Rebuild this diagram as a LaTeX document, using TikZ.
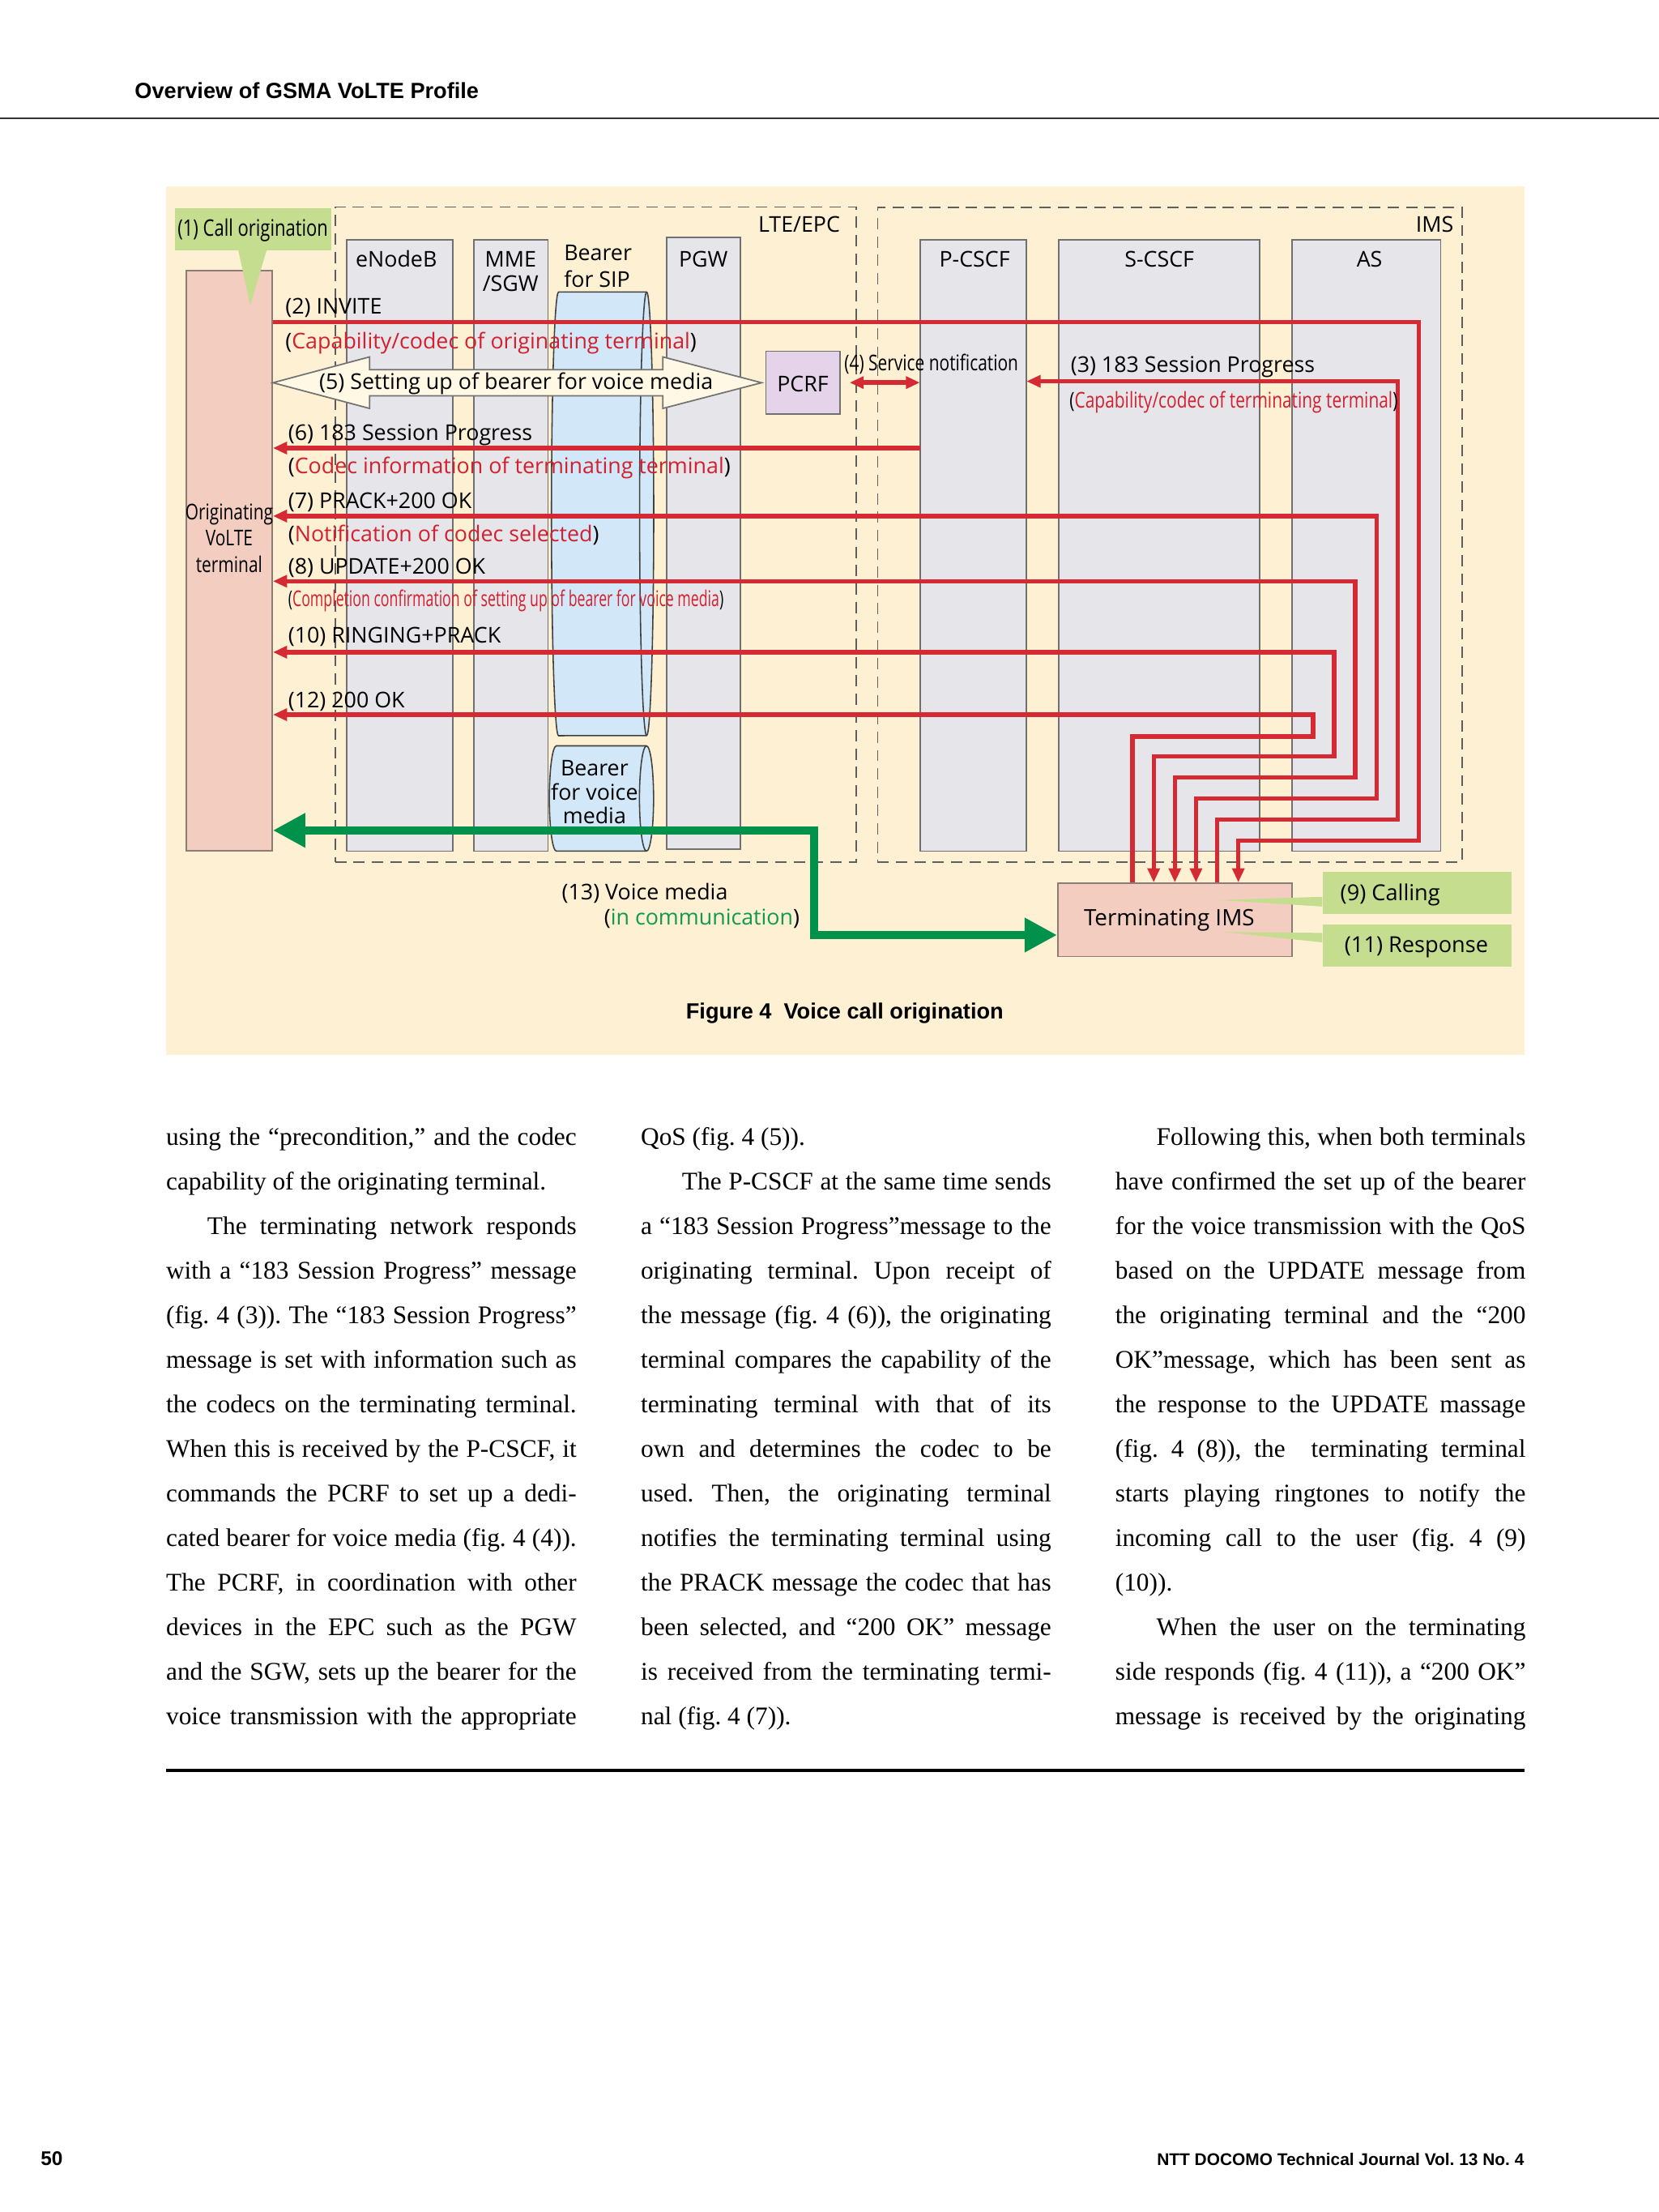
\documentclass[tikz,border=0pt]{standalone}
\usepackage{fontspec}
\setmainfont{Liberation Serif}
\newfontfamily\dgfont{Open Sans}
\newfontfamily\dgcond[FakeStretch=0.78]{Open Sans}
\newfontfamily\dgcondx[FakeStretch=0.66]{Open Sans}
\newfontfamily\hdfont{Liberation Sans}
\usepackage{xcolor}
\usepackage{tikz}
\usetikzlibrary{arrows.meta,positioning,fit}
\definecolor{pagepeach}{HTML}{FEF0D3}
\definecolor{colgray}{HTML}{E5E5EA}
\definecolor{colline}{HTML}{707070}
\definecolor{dashgray}{HTML}{5E5E5E}
\definecolor{termpink}{HTML}{F3CDBF}
\definecolor{termline}{HTML}{8C7C74}
\definecolor{notegreen}{HTML}{C4DD8E}
\definecolor{bearerblue}{HTML}{D2E8F8}
\definecolor{pcrflilac}{HTML}{E4D3E9}
\definecolor{msgred}{HTML}{D42A33}
\definecolor{txtred}{HTML}{D2202E}
\definecolor{mediagreen}{HTML}{00924A}
\definecolor{txtgreen}{HTML}{119A4E}
\definecolor{setupfill}{HTML}{FFF8E4}
\newcommand{\redtxt}[1]{\textcolor{txtred}{#1}}
\newcommand{\greentxt}[1]{\textcolor{txtgreen}{#1}}
\newlength{\bodyw}\setlength{\bodyw}{145.5pt}
\newcommand{\jline}[1]{\hbox to \bodyw{#1}}
\newcommand{\lastline}[1]{\hbox to \bodyw{#1\hfil}}
\newcommand{\indline}[1]{\hbox to \bodyw{\hskip 14.6pt\relax #1}}
\tikzset{
    colbox/.style={draw=colline,fill=colgray,line width=0.5pt,inner sep=0pt,outer sep=0pt},
    areabox/.style={draw=dashgray,dash pattern=on 4pt off 2.5pt,line width=0.5pt,inner sep=0pt},
    termbox/.style={draw=termline,fill=termpink,line width=0.5pt,inner sep=0pt},
    notebox/.style={fill=notegreen,inner sep=0pt},
    bearer/.style={draw=black!75,fill=bearerblue,line width=0.45pt},
    lbl/.style={font=\dgfont\fontsize{7.7}{9.2}\selectfont,inner sep=0pt},
    condlbl/.style={font=\dgcond\fontsize{7.7}{9.25}\selectfont,inner sep=0pt},
    msglbl/.style={lbl,anchor=west,yshift=-0.7pt},
    msgline/.style={draw=msgred,line width=1.55pt},
    mediaarrow/.style={draw=mediagreen,line width=2.9pt,
      {Triangle[length=11.5pt,width=11.5pt]}-{Triangle[length=11.5pt,width=11.5pt]}},
    setuparrow/.style={draw=black!55,fill=setupfill,line width=0.5pt},
    pagefont/.style={font=\hdfont\bfseries\fontsize{7.8}{9.4}\selectfont,inner sep=0pt},
    bodytext/.style={font=\fontsize{9}{15.8}\selectfont,inner sep=0pt,anchor=base west}
}
\begin{document}
\begin{tikzpicture}[x=0.5pt,y=-0.5pt,>={Triangle[length=5pt,width=4.2pt]}]
  \useasboundingbox[fill=white] (0,0) rectangle (1176,1568);
  % running head
  \node[pagefont,anchor=base west] (pagehead) at (95.2,69.9) {Overview of GSMA VoLTE Profile};
  \draw[line width=0.7pt,black!80] (0,83.8) -- (1176,83.8);

  % figure panel and domains
  \node[fill=pagepeach,inner sep=0pt,fit={(118,132) (1081,748)}] (panel) {};
  \node[areabox,fit={(237.7,146.8) (607.3,611)}] (lteepc) {};
  \node[areabox,fit={(622.3,147.2) (1036.7,611)}] (imsarea) {};
  \node[lbl,anchor=east] (ltelbl) at (596,159) {LTE/EPC};
  \node[lbl,anchor=east] (imslbl) at (1031,159) {IMS};

  % network elements
  \node[colbox,fit={(245.8,169.8) (321,603.3)}] (enb) {};
  \node[colbox,fit={(336,169.8) (388.5,603.3)}] (mme) {};
  \node[colbox,fit={(472.6,168.3) (524.8,601.8)}] (pgw) {};
  \node[colbox,fit={(652.3,169.8) (727.8,603.3)}] (pcscf) {};
  \node[colbox,fit={(750.6,169.8) (893.3,603.3)}] (scscf) {};
  \node[colbox,fit={(916,169.8) (1021.5,603.3)}] (appsrv) {};
  \node[lbl] (enblbl) at (281,183.5) {eNodeB};
  \node[lbl,align=center,font=\dgfont\fontsize{7.7}{8.75}\selectfont] (mmelbl) at (362,192.5) {MME\\/SGW};
  \node[lbl,align=left,anchor=west,font=\dgfont\fontsize{7.7}{9.5}\selectfont] (siplbl) at (399.5,188.5) {Bearer\\for SIP};
  \node[lbl] (pgwlbl) at (498.7,183.5) {PGW};
  \node[lbl] (pcscflbl) at (691,183.5) {P-CSCF};
  \node[lbl] (scscflbl) at (822,183.5) {S-CSCF};
  \node[lbl] (aslbl) at (971,183.5) {AS};

  % bearers
  \filldraw[bearer] (396,207) -- (458.5,207)
    arc[start angle=90,end angle=-90,x radius=2.5pt,y radius=78.6pt] -- (396,521.5)
    arc[start angle=270,end angle=90,x radius=2.5pt,y radius=78.6pt] -- cycle;
  \draw[bearer,fill=none] (458.5,207) arc[start angle=90,end angle=270,x radius=2.5pt,y radius=78.6pt];
  \filldraw[bearer] (394.5,528.7) -- (458.4,528.7)
    arc[start angle=90,end angle=-90,x radius=2.5pt,y radius=18.65pt] -- (394.5,603.3)
    arc[start angle=270,end angle=90,x radius=2.5pt,y radius=18.65pt] -- cycle;
  \draw[bearer,fill=none] (458.4,528.7) arc[start angle=90,end angle=270,x radius=2.5pt,y radius=18.65pt];
  \node[lbl,align=center,font=\dgfont\fontsize{7.7}{8.35}\selectfont] (voicelbl) at (421.5,561.5) {Bearer\\for voice\\media};

  \node[draw=colline,fill=pcrflilac,line width=0.5pt,inner sep=0pt,fit={(543,249) (595.5,293.4)}] (pcrf) {};
  \node[lbl] (pcrflbl) at (569.2,272) {PCRF};

  % terminals
  \node[termbox,fit={(132.3,192) (193,603)}] (origterm) {};
  \node[condlbl,align=center] (origlbl) at (162.5,381.5) {Originating\\VoLTE\\terminal};
  \node[notebox,fit={(124,147.5) (235,177.2)}] (callorig) {};
  \node[inner sep=0pt,font=\dgcond\fontsize{8.1}{9.6}\selectfont] (calloriglbl) at (179.3,163) {(1) Call origination};
  \fill[notegreen] (callorig.south -| 169,0) -- (callorig.south -| 189,0) -- (177.4,216.5) -- cycle;

  % (5) bearer set-up
  \filldraw[setuparrow] (origterm.east |- 0,271.3) -- (262,253) -- (262,262) -- (470,262) -- (470,253)
    -- (540,271.3) -- (470,289.5) -- (470,280.6) -- (262,280.6) -- (262,289.5) -- cycle;
  \node[lbl] (setuplbl) at (366,272) {(5) Setting up of bearer for voice media};

  \node[termbox,fit={(750,626) (916,678)}] (termims) {};
  \node[lbl,font=\dgfont\fontsize{8}{9.6}\selectfont] (termimslbl) at (829,652.5) {Terminating IMS};

  % SIP messages
  \draw[msgline,->] (origterm.east |- 0,228.3) -| (1006,596) -| (termims.north -| 878,0);
  \draw[msgline,->] (termims.north -| 863,0) |- (991,581) |- (pcscf.east |- 0,270.3);
  \draw[msgline,<->,shorten <=3.2pt] (pcrf.east) -- (pcscf.west |- pcrf.east);
  \draw[msgline,->] (pcscf.west |- 0,317.6) -- (origterm.east |- 0,317.6);
  \draw[msgline,<->] (origterm.east |- 0,365.8) -| (976,566) -| (termims.north -| 848,0);
  \draw[msgline,<->] (origterm.east |- 0,412) -| (961,551) -| (termims.north -| 833,0);
  \draw[msgline,<->] (origterm.east |- 0,462.3) -| (946,536) -| (termims.north -| 818,0);
  \draw[msgline,<-] (origterm.east |- 0,506.6) -| (931,522) -| (termims.north -| 803,0);

  % voice media
  \draw[mediaarrow] (origterm.east |- 0,588.6) -| (577,662.8) -- (termims.west |- 0,662.8);

  % message labels
  \node[msglbl] (invlbl) at (202,216.8) {(2) INVITE};
  \node[msglbl] (invnote) at (202,242) {(\redtxt{Capability/codec of originating terminal})};
  \node[msglbl] (sp3lbl) at (758.8,258.5) {(3) 183 Session Progress};
  \node[condlbl,anchor=west,yshift=-0.7pt] (sp3note) at (758,284) {(\redtxt{Capability/codec of terminating terminal})};
  \node[condlbl,anchor=west,yshift=-0.7pt] (svclbl) at (598.3,256.6) {(4) Service notification};
  \node[msglbl] (sp6lbl) at (204,307) {(6) 183 Session Progress};
  \node[msglbl] (sp6note) at (204,330) {(\redtxt{Codec information of terminating terminal})};
  \node[msglbl] (pracklbl) at (204,354.6) {(7) PRACK+200 OK};
  \node[msglbl] (pracknote) at (204,377.6) {(\redtxt{Notification of codec selected})};
  \node[msglbl] (updlbl) at (204,401) {(8) UPDATE+200 OK};
  \node[msglbl,font=\dgcondx\fontsize{7.7}{9.2}\selectfont] (updnote) at (204,424.7)
    {(\redtxt{Completion confirmation of setting up of bearer for voice media})};
  \node[msglbl] (ringlbl) at (204,450) {(10) RINGING+PRACK};
  \node[msglbl] (oklbl) at (204,495.7) {(12) 200 OK};
  \node[msglbl] (medialbl) at (398,631.6) {(13) Voice media};
  \node[msglbl] (medianote) at (428,649.8) {(\greentxt{in communication})};

  % user actions at terminating side
  \node[notebox,fit={(938,618) (1071.5,648)}] (calling) {};
  \node[notebox,fit={(938,655.6) (1071.5,685.2)}] (response) {};
  \fill[notegreen] (calling.west |- 0,635.7) -- (calling.west |- 0,642.6) -- (864,638) -- cycle;
  \fill[notegreen] (response.west |- 0,661.3) -- (response.west |- 0,668) -- (867,660.6) -- cycle;
  \node[msglbl,font=\dgfont\fontsize{7.8}{9.4}\selectfont] (callinglbl) at (950,633) {(9) Calling};
  \node[msglbl,font=\dgfont\fontsize{7.8}{9.4}\selectfont] (responselbl) at (953,670) {(11) Response};

  \node[pagefont,anchor=base west] (caption) at (486,722.5) {Figure 4~~Voice call origination};

  % body text
  \node[bodytext] (colone) at (117.4,811.6) {\frenchspacing\vtop{\baselineskip=15.8pt
    \jline{using the ``precondition,'' and the codec}
    \lastline{capability of the originating terminal.}
    \indline{The terminating network responds}
    \jline{with a ``183 Session Progress'' message}
    \jline{(fig. 4 (3)). The ``183 Session Progress''}
    \jline{message is set with information such as}
    \jline{the codecs on the terminating terminal.}
    \jline{When this is received by the P-CSCF, it}
    \jline{commands the PCRF to set up a dedi-}
    \jline{cated bearer for voice media (fig. 4 (4)).}
    \jline{The PCRF, in coordination with other}
    \jline{devices in the EPC such as the PGW}
    \jline{and the SGW, sets up the bearer for the}
    \jline{voice transmission with the appropriate}}};
  \node[bodytext] (coltwo) at (454,811.6) {\frenchspacing\vtop{\baselineskip=15.8pt
    \lastline{QoS (fig. 4 (5)).}
    \indline{The P-CSCF at the same time sends}
    \jline{a ``183 Session Progress''message to the}
    \jline{originating terminal. Upon receipt of}
    \jline{the message (fig. 4 (6)), the originating}
    \jline{terminal compares the capability of the}
    \jline{terminating terminal with that of its}
    \jline{own and determines the codec to be}
    \jline{used. Then, the originating terminal}
    \jline{notifies the terminating terminal using}
    \jline{the PRACK message the codec that has}
    \jline{been selected, and ``200 OK'' message}
    \jline{is received from the terminating termi-}
    \lastline{nal (fig. 4 (7)).}}};
  \node[bodytext] (colthree) at (790.4,811.6) {\frenchspacing\vtop{\baselineskip=15.8pt
    \indline{Following this, when both terminals}
    \jline{have confirmed the set up of the bearer}
    \jline{for the voice transmission with the QoS}
    \jline{based on the UPDATE message from}
    \jline{the originating terminal and the ``200}
    \jline{OK''message, which has been sent as}
    \jline{the response to the UPDATE massage}
    \jline{(fig. 4 (8)), the\ \ terminating terminal}
    \jline{starts playing ringtones to notify the}
    \jline{incoming call to the user (fig. 4 (9)}
    \lastline{(10)).}
    \indline{When the user on the terminating}
    \jline{side responds (fig. 4 (11)), a ``200 OK''}
    \jline{message is received by the originating}}};

  % foot
  \draw[line width=1.1pt] (117.7,1255) -- (1081,1255);
  \node[pagefont,anchor=base west,font=\hdfont\bfseries\fontsize{7}{8.4}\selectfont] (pagenum) at (28.5,1535) {50};
  \node[pagefont,anchor=base east,font=\hdfont\bfseries\fontsize{6}{7.2}\selectfont] (journal) at (1081,1535)
    {NTT DOCOMO Technical Journal Vol.~13 No.~4};
\end{tikzpicture}
\end{document}
